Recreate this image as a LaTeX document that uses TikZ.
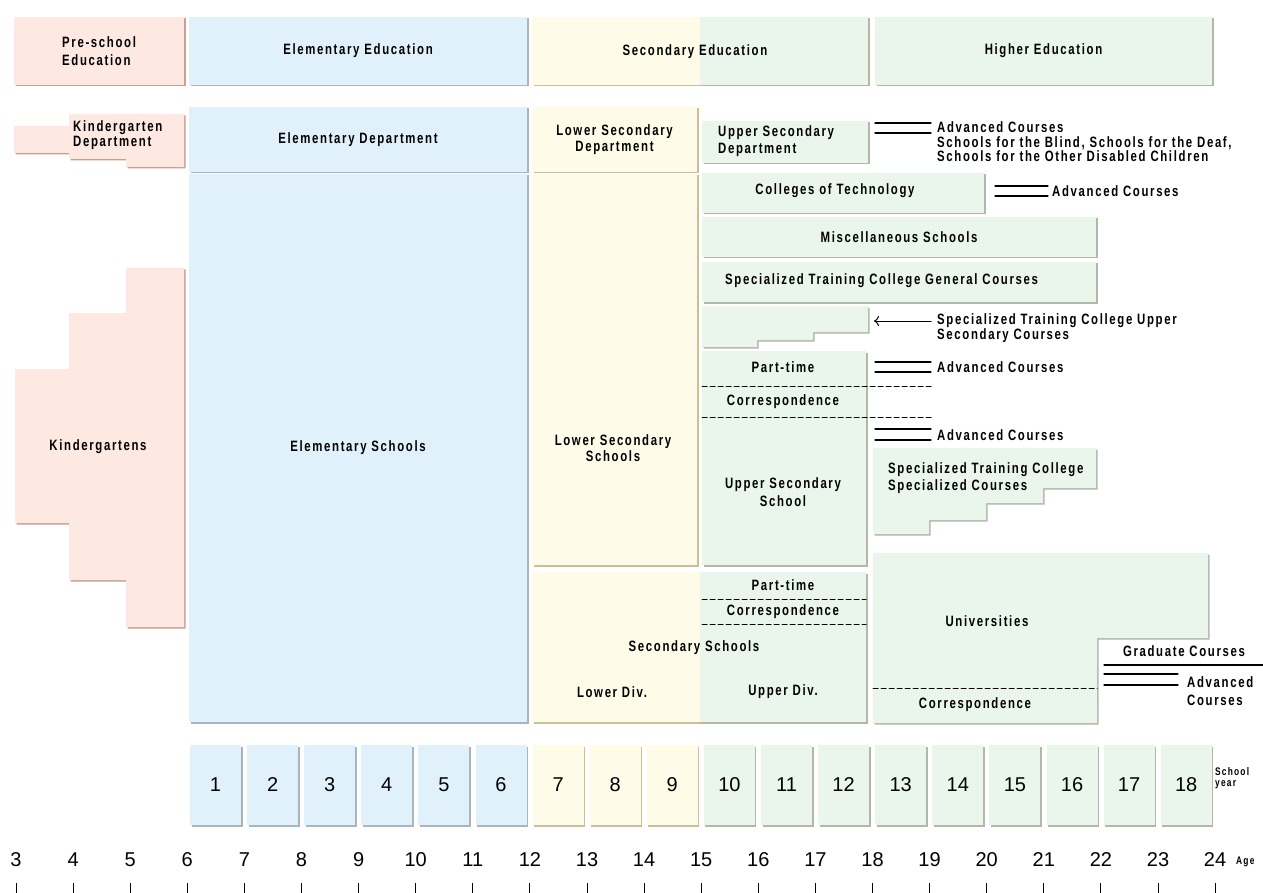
\documentclass[tikz,border=0pt]{standalone}
\usepackage{fontspec}
\setmainfont{Liberation Sans}
\newfontfamily\labfont{Liberation Sans}[FakeStretch=0.76,LetterSpace=11]
\usepackage{tkz-euclide}
\usetikzlibrary{shadows,arrows.meta}
\definecolor{PinkClr}{RGB}{253,232,226}
\definecolor{PinkEdge}{RGB}{200,160,148}
\definecolor{BlueClr}{RGB}{225,241,251}
\definecolor{BlueEdge}{RGB}{168,180,190}
\definecolor{YellowClr}{RGB}{254,252,232}
\definecolor{YellowEdge}{RGB}{205,190,150}
\definecolor{GreenClr}{RGB}{234,245,236}
\definecolor{GreenEdge}{RGB}{180,182,168}

\begin{document}
\begin{tikzpicture}[x=1pt,y=-1pt,
  lab/.style={font=\labfont\bfseries\fontsize{15}{15.5}\selectfont,inner sep=0pt,align=center},
  labl/.style={lab,align=left,anchor=west},
  small/.style={font=\labfont\bfseries\fontsize{11}{10.5}\selectfont,inner sep=0pt,align=left,anchor=west},
  num/.style={font=\fontsize{20}{20}\selectfont,inner sep=0pt},
  blk/.style={anchor=north west,inner sep=0pt,outer sep=0pt},
  pinkbox/.style={blk,fill=PinkClr,general shadow={fill=PinkEdge,shadow xshift=1.5pt,shadow yshift=-1.5pt}},
  bluebox/.style={blk,fill=BlueClr,general shadow={fill=BlueEdge,shadow xshift=1.5pt,shadow yshift=-1.5pt}},
  yellowbox/.style={blk,fill=YellowClr,general shadow={fill=YellowEdge,shadow xshift=1.5pt,shadow yshift=-1.5pt}},
  greenbox/.style={blk,fill=GreenClr,general shadow={fill=GreenEdge,shadow xshift=1.5pt,shadow yshift=-1.5pt}}]
\useasboundingbox (0,0) rectangle (1263,893);
\tkzSetUpLine[line width=1.2pt,color=black]

% staircase corners
\tkzDefPoints{14/126/A1,69/126/A2,69/114/A3,184/114/A4,184/167/A5,126/167/A6,126/159/A7,69/159/A8,69/153/A9,14/153/A10}
\tkzDefPoints{15/369/K1,69/369/K2,69/313/K3,126/313/K4,126/268/K5,184/268/K6,184/627/K7,126/627/K8,126/580/K9,69/580/K10,69/523/K11,15/523/K12}
\tkzDefPoints{702/306/P1,868/306/P2,868/332/P3,813/332/P4,813/340/P5,757/340/P6,757/347/P7,702/347/P8}
\tkzDefPoints{873/448/S1,1096/448/S2,1096/488/S3,1043/488/S4,1043/503/S5,986/503/S6,986/520/S7,929/520/S8,929/534/S9,873/534/S10}
\tkzDefPoints{873/553/U1,1208/553/U2,1208/638/U3,1097/638/U4,1097/723/U5,873/723/U6}

\begin{scope}[transform canvas={xshift=1.5pt,yshift=-1.5pt}]
\tkzFillPolygon[fill=PinkEdge](A1,A2,A3,A4,A5,A6,A7,A8,A9,A10)
\tkzFillPolygon[fill=PinkEdge](K1,K2,K3,K4,K5,K6,K7,K8,K9,K10,K11,K12)
\tkzFillPolygon[fill=GreenEdge](P1,P2,P3,P4,P5,P6,P7,P8)
\tkzFillPolygon[fill=GreenEdge](S1,S2,S3,S4,S5,S6,S7,S8,S9,S10)
\tkzFillPolygon[fill=GreenEdge](U1,U2,U3,U4,U5,U6)
\end{scope}
\tkzFillPolygon[fill=PinkClr](A1,A2,A3,A4,A5,A6,A7,A8,A9,A10)
\tkzFillPolygon[fill=PinkClr](K1,K2,K3,K4,K5,K6,K7,K8,K9,K10,K11,K12)
\tkzFillPolygon[fill=GreenClr](P1,P2,P3,P4,P5,P6,P7,P8)
\tkzFillPolygon[fill=GreenClr](S1,S2,S3,S4,S5,S6,S7,S8,S9,S10)
\tkzFillPolygon[fill=GreenClr](U1,U2,U3,U4,U5,U6)

% header row
\node[pinkbox,minimum width=170,minimum height=68] (preHd) at (14,17) {};
\node[bluebox,lab,minimum width=338,minimum height=68] (elemHd) at (189,17) {Elementary Education};
\node[yellowbox,minimum width=168,minimum height=68] (secHdA) at (532,17) {};
\node[greenbox,minimum width=168,minimum height=68] (secHdB) at (700,17) {};
\node[greenbox,lab,minimum width=337,minimum height=68] (highHd) at (875,17) {Higher Education};
\node[labl] (preHdT) at (62,51) {Pre-school\\[2pt]Education};
\node[lab] (secHdT) at (695,52) {Secondary Education};

% columns
\node[bluebox,lab,minimum width=338,minimum height=65] (elemDept) at (189,107) {Elementary Department};
\node[bluebox,lab,minimum width=338,minimum height=548] (elemSch) at (189,174) {Elementary Schools};
\node[yellowbox,lab,minimum width=165,minimum height=65] (lsDept) at (532,107) {Lower Secondary\\Department};
\node[yellowbox,minimum width=165,minimum height=391] (lsSch) at (532,174) {};
\node[yellowbox,minimum width=168,minimum height=150] (ssLow) at (532,572) {};
\node[greenbox,minimum width=166,minimum height=150] (ssUp) at (700,572) {};
\node[greenbox,minimum width=166,minimum height=42] (usDept) at (702,121) {};
\node[greenbox,minimum width=282,minimum height=40] (colTech) at (702,173) {};
\node[greenbox,lab,minimum width=394,minimum height=40] (misc) at (702,217) {Miscellaneous Schools};
\node[greenbox,minimum width=394,minimum height=40] (genC) at (702,262) {};
\node[greenbox,minimum width=164,minimum height=214] (usSch) at (702,351) {};

% texts
\node[labl] (kgDeptT) at (73,135) {Kindergarten\\Department};
\node[lab] (kgT) at (98,447) {Kindergartens};
\node[lab] (lsSchT) at (613,448) {Lower Secondary\\Schools};
\node[labl] (usDeptT) at (718,141) {Upper Secondary\\[2pt]Department};
\node[lab] (colTechT) at (835,191) {Colleges of Technology};
\node[labl] (genCT) at (725,281) {Specialized Training College General Courses};
\node[lab] (ptA) at (783,367) {Part-time};
\node[lab] (corA) at (783,402) {Correspondence};
\node[lab] (usSchT) at (783,492) {Upper Secondary\\[2pt]School};
\node[labl] (spCT) at (888,478) {Specialized Training College\\[2pt]Specialized Courses};
\node[lab] (ptB) at (783,585) {Part-time};
\node[lab] (corB) at (783,612) {Correspondence};
\node[lab] (ssT) at (694,648) {Secondary Schools};
\node[lab] (lowDiv) at (612,692) {Lower Div.};
\node[lab] (upDiv) at (783,692) {Upper Div.};
\node[lab] (univT) at (987,621) {Universities};
\node[lab] (corC) at (975,705) {Correspondence};
\node[lab] (gradT) at (1184,651) {Graduate Courses};

% side notes
\node[labl,font=\labfont\bfseries\fontsize{15}{14.5}\selectfont] (advA) at (937,142) {Advanced Courses\\Schools for the Blind, Schools for the Deaf,\\Schools for the Other Disabled Children};
\node[labl] (advB) at (1052,191) {Advanced Courses};
\node[labl,font=\labfont\bfseries\fontsize{15}{13}\selectfont] (upCT) at (937,328) {Specialized Training College Upper\\Secondary Courses};
\node[labl] (advC) at (937,367) {Advanced Courses};
\node[labl] (advD) at (937,435) {Advanced Courses};
\node[labl] (advE) at (1187,691) {Advanced\\[2pt]Courses};

% connectors
\tkzDefPoints{875/123/B1,931/123/B2,875/133/B3,931/133/B4,995/186/C1,1048/186/C2,995/196/C3,1048/196/C4}
\tkzDefPoints{931/321/D1,874/321/D2,875/362/E1,931/362/E2,875/372/E3,931/372/E4,875/429/F1,931/429/F2,875/440/F3,931/440/F4}
\tkzDefPoints{702/386/G1,931/386/G2,702/417/G3,931/417/G4,702/599/H1,866/599/H2,702/624/H3,866/624/H4,873/688/H5,1097/688/H6}
\tkzDefPoints{1104/665/J1,1263/665/J2,1104/674/J3,1178/674/J4,1104/685/J5,1178/685/J6}
\tkzDrawSegments(B1,B2 B3,B4 C1,C2 C3,C4 E1,E2 E3,E4 F1,F2 F3,F4 J1,J2 J3,J4 J5,J6)
\tkzDrawSegment[line width=1pt,-{To[length=5pt,width=10pt]}](D1,D2)
\tkzDrawSegments[line width=1pt,dash pattern=on 5pt off 3pt](G1,G2 G3,G4 H1,H2 H3,H4 H5,H6)

% school years
\foreach \n in {1,...,6}
  \node[bluebox,num,minimum width=51,minimum height=80] (yr\n) at ({190+(\n-1)*57.1},745) {\n};
\foreach \n in {7,8,9}
  \node[yellowbox,num,minimum width=51,minimum height=80] (yr\n) at ({190+(\n-1)*57.1},745) {\n};
\foreach \n in {10,...,18}
  \node[greenbox,num,minimum width=51,minimum height=80] (yr\n) at ({190+(\n-1)*57.1},745) {\n};
\node[small] (yrT) at (1215,778) {School\\year};

% ages
\foreach \a in {3,...,24}{
  \node[num] (age\a) at ({16+(\a-3)*57.1},860) {\a};
  \draw[line width=1pt] (age\a) ++(0,23) -- ++(0,10);
}
\node[small] (ageT) at (1236,862) {Age};
\end{tikzpicture}
\end{document}
